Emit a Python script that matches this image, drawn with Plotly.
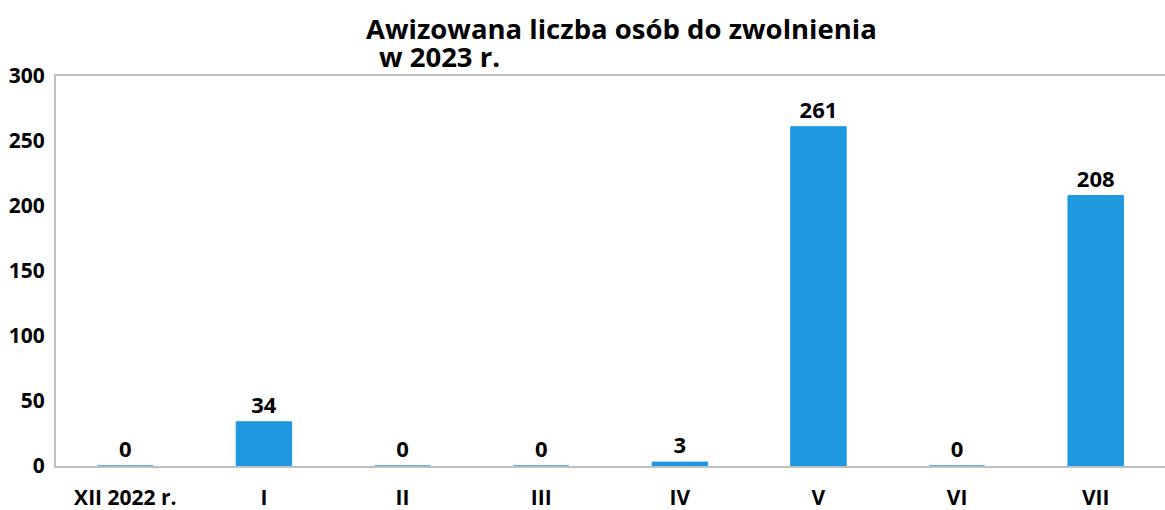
import plotly.graph_objects as go

categories = ["XII 2022 r.", "I", "II", "III", "IV", "V", "VI", "VII"]
values = [0, 34, 0, 0, 3, 261, 0, 208]
y_ticks = [0, 50, 100, 150, 200, 250, 300]

FONT = "Open Sans"
BAR = "#1f98e0"
AXIS = "#bfbfbf"

fig = go.Figure()
fig.add_trace(go.Bar(
    x=categories, y=values,
    marker=dict(color=BAR, line=dict(color=BAR, width=1)),
    text=[str(v) for v in values],
    textposition="outside",
    textfont=dict(family=FONT, size=22, color="#000000", weight="bold"),
    cliponaxis=False,
    hoverinfo="skip",
))

W, H = 1165, 510
L, R, T, B = 56, 0, 76, 44
pw = W - L - R
ph = H - T - B

def px(x):
    return (x - L) / pw

def py(y):
    return (H - B - y) / ph

fig.update_layout(
    width=W, height=H,
    margin=dict(l=L, r=R, t=T, b=B, pad=0),
    paper_bgcolor="white", plot_bgcolor="white",
    bargap=0.6,
    showlegend=False,
    font=dict(family=FONT, size=21, color="#000000"),
    annotations=[
        dict(text="<b>Awizowana liczba osób do zwolnienia</b>", xref="paper", yref="paper",
             x=px(364), y=py(28), xanchor="left", yanchor="middle", showarrow=False,
             font=dict(family=FONT, size=27.5, color="#000000")),
        dict(text="<b>w 2023 r.</b>", xref="paper", yref="paper",
             x=px(377), y=py(57), xanchor="left", yanchor="middle", showarrow=False,
             font=dict(family=FONT, size=27.5, color="#000000")),
    ],
)
fig.update_xaxes(
    showline=True, linecolor=AXIS, linewidth=2, mirror=True,
    showgrid=False, ticks="", ticklabelstandoff=12,
    tickfont=dict(family=FONT, size=21, color="#000000", weight="bold"),
)
fig.update_yaxes(
    range=[0, 300], tickvals=y_ticks,
    showline=True, linecolor=AXIS, linewidth=2,
    showgrid=False, zeroline=False, ticks="", ticklabelstandoff=5,
    tickfont=dict(family=FONT, size=21, color="#000000", weight="bold"),
)

fig.write_html(
    "out.html",
    config={"displayModeBar": False},
    post_script="document.body.style.margin='0';document.body.style.padding='0';",
)
